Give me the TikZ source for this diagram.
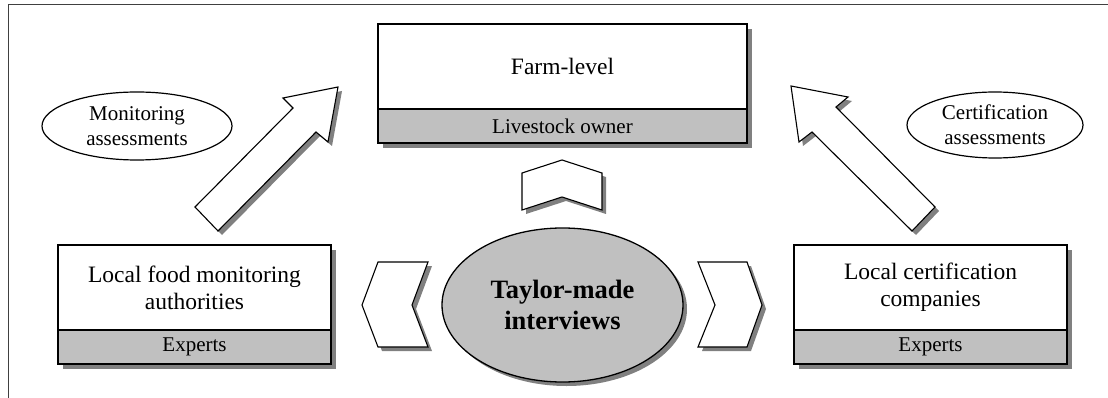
\documentclass[tikz,border=0pt]{standalone}
\usepackage{fontspec}
\setmainfont{Liberation Serif}
\usetikzlibrary{shapes.geometric,shadows}
\definecolor{bandgray}{HTML}{C0C0C0}
\definecolor{shadegray}{HTML}{808080}
\definecolor{framegray}{HTML}{404040}
\tikzset{
  shade5/.style={drop shadow={shadow xshift=5pt,shadow yshift=-5pt,fill=shadegray,opacity=1}},
  shade4/.style={drop shadow={shadow xshift=4pt,shadow yshift=-4pt,fill=shadegray,opacity=1}},
  topbox/.style={draw=black,line width=1.8pt,fill=white,rectangle,inner sep=0pt,align=center,shade5},
  bandbox/.style={draw=black,line width=1.8pt,fill=bandgray,rectangle,inner sep=0pt,align=center,shade5},
  shapeline/.style={draw=black,line width=1.1pt,fill=white,line join=miter,shade4},
  labelell/.style={draw=black,line width=1.2pt,fill=white,ellipse,inner sep=0pt,align=center,
     font=\fontsize{21}{25}\selectfont},
  mainfont/.style={font=\fontsize{23.5}{27}\selectfont},
  bandfont/.style={font=\fontsize{21}{25}\selectfont},
}
\begin{document}
\begin{tikzpicture}[x=1pt,y=-1pt]
\useasboundingbox (0,0) rectangle (1108,398);
% frame
\draw[framegray,line width=1.6pt] (8.5,398) -- (8.5,4.5) -- (1108,4.5);

% big arrows
\draw[shapeline] (338,87) -- (283,98) -- (293,108) -- (195,207) -- (218,231) -- (316,132) -- (328,142) -- cycle;
\draw[shapeline] (791,86) -- (848,97) -- (836,107) -- (935,207) -- (912,231) -- (812,132) -- (799,142) -- cycle;

% chevrons
\draw[shapeline] (522,173) -- (562,160) -- (602,173) -- (602,210) -- (562,197) -- (522,210) -- cycle;
\draw[shapeline] (378,262) -- (428,262) -- (412,305) -- (428,347) -- (378,347) -- (362,305) -- cycle;
\draw[shapeline] (698,262) -- (747,262) -- (762,305) -- (747,347) -- (698,347) -- (715,305) -- cycle;

% farm-level box
\node[topbox,mainfont,minimum width=369,minimum height=85] (farm) at (562.5,66.5) {Farm-level};
\node[bandbox,bandfont,minimum width=369,minimum height=34] (owner) at (562.5,126) {Livestock owner};

% left box
\node[topbox,mainfont,minimum width=273,minimum height=85] (food) at (194.5,287.5) {Local food monitoring\\authorities};
\node[bandbox,bandfont,minimum width=273,minimum height=34] (fexp) at (194.5,347) {Experts};

% right box
\node[topbox,mainfont,minimum width=273,minimum height=85] (cert) at (930.5,287.5) {Local certification\\companies};
\node[bandbox,bandfont,minimum width=273,minimum height=34] (cexp) at (930.5,347) {Experts};

% central ellipse
\node[ellipse,draw=black,line width=1.3pt,fill=bandgray,shade4,minimum width=241,minimum height=154,inner sep=0pt,align=center,
  font=\fontsize{26.5}{31}\selectfont\bfseries] (tay) at (562.5,305) {Taylor-made\\interviews};

% label ellipses
\node[labelell,minimum width=190,minimum height=68] (mon) at (137,126) {Monitoring\\assessments};
\node[labelell,minimum width=176,minimum height=66] (cas) at (995,125) {Certification\\assessments};
\end{tikzpicture}
\end{document}
